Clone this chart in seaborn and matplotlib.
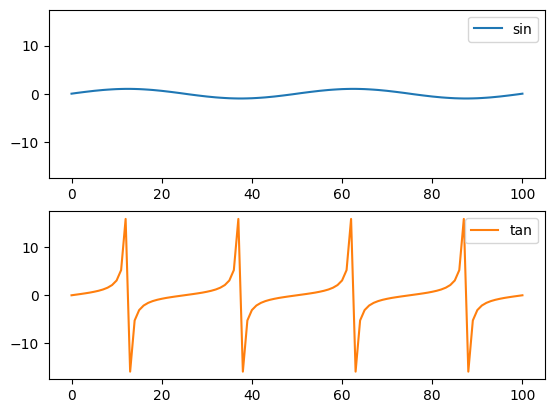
import matplotlib
matplotlib.use("Agg")
import matplotlib.pyplot as plt
import seaborn as sns

x_values = list(range(101))

sin_values = [
    0.00, 0.13, 0.25, 0.37, 0.48, 0.59, 0.68, 0.77, 0.84, 0.90, 0.95, 0.98, 1.00,
    1.00, 0.98, 0.95, 0.90, 0.84, 0.77, 0.68, 0.59, 0.48, 0.37, 0.25, 0.13, 0.00,
    -0.13, -0.25, -0.37, -0.48, -0.59, -0.68, -0.77, -0.84, -0.90, -0.95, -0.98, -1.00, -1.00,
    -0.98, -0.95, -0.90, -0.84, -0.77, -0.68, -0.59, -0.48, -0.37, -0.25, -0.13, 0.00,
    0.13, 0.25, 0.37, 0.48, 0.59, 0.68, 0.77, 0.84, 0.90, 0.95, 0.98, 1.00,
    1.00, 0.98, 0.95, 0.90, 0.84, 0.77, 0.68, 0.59, 0.48, 0.37, 0.25, 0.13, 0.00,
    -0.13, -0.25, -0.37, -0.48, -0.59, -0.68, -0.77, -0.84, -0.90, -0.95, -0.98, -1.00, -1.00,
    -0.98, -0.95, -0.90, -0.84, -0.77, -0.68, -0.59, -0.48, -0.37, -0.25, -0.13, 0.00,
]

tan_values = [
    0.00, 0.13, 0.26, 0.40, 0.55, 0.73, 0.94, 1.21, 1.58, 2.13, 3.08, 5.24, 15.89,
    -15.89, -5.24, -3.08, -2.13, -1.58, -1.21, -0.94, -0.73, -0.55, -0.40, -0.26, -0.13,
    0.00, 0.13, 0.26, 0.40, 0.55, 0.73, 0.94, 1.21, 1.58, 2.13, 3.08, 5.24, 15.89,
    -15.89, -5.24, -3.08, -2.13, -1.58, -1.21, -0.94, -0.73, -0.55, -0.40, -0.26, -0.13,
    0.00, 0.13, 0.26, 0.40, 0.55, 0.73, 0.94, 1.21, 1.58, 2.13, 3.08, 5.24, 15.89,
    -15.89, -5.24, -3.08, -2.13, -1.58, -1.21, -0.94, -0.73, -0.55, -0.40, -0.26, -0.13,
    0.00, 0.13, 0.26, 0.40, 0.55, 0.73, 0.94, 1.21, 1.58, 2.13, 3.08, 5.24, 15.89,
    -15.89, -5.24, -3.08, -2.13, -1.58, -1.21, -0.94, -0.73, -0.55, -0.40, -0.26, -0.13,
    0.00,
]

series_labels = ["sin", "tan"]

fig, axes = plt.subplots(2, 1, sharey=True, figsize=(6.4, 4.8))
sns.lineplot(x=x_values, y=sin_values, ax=axes[0], color="#1f77b4", label=series_labels[0])
sns.lineplot(x=x_values, y=tan_values, ax=axes[1], color="#ff7f0e", label=series_labels[1])
for ax in axes:
    ax.legend(loc="upper right")
    ax.set_xticks([0, 20, 40, 60, 80, 100])
    ax.set_yticks([-10, 0, 10])

fig.savefig("out.png", dpi=100, bbox_inches="tight")
